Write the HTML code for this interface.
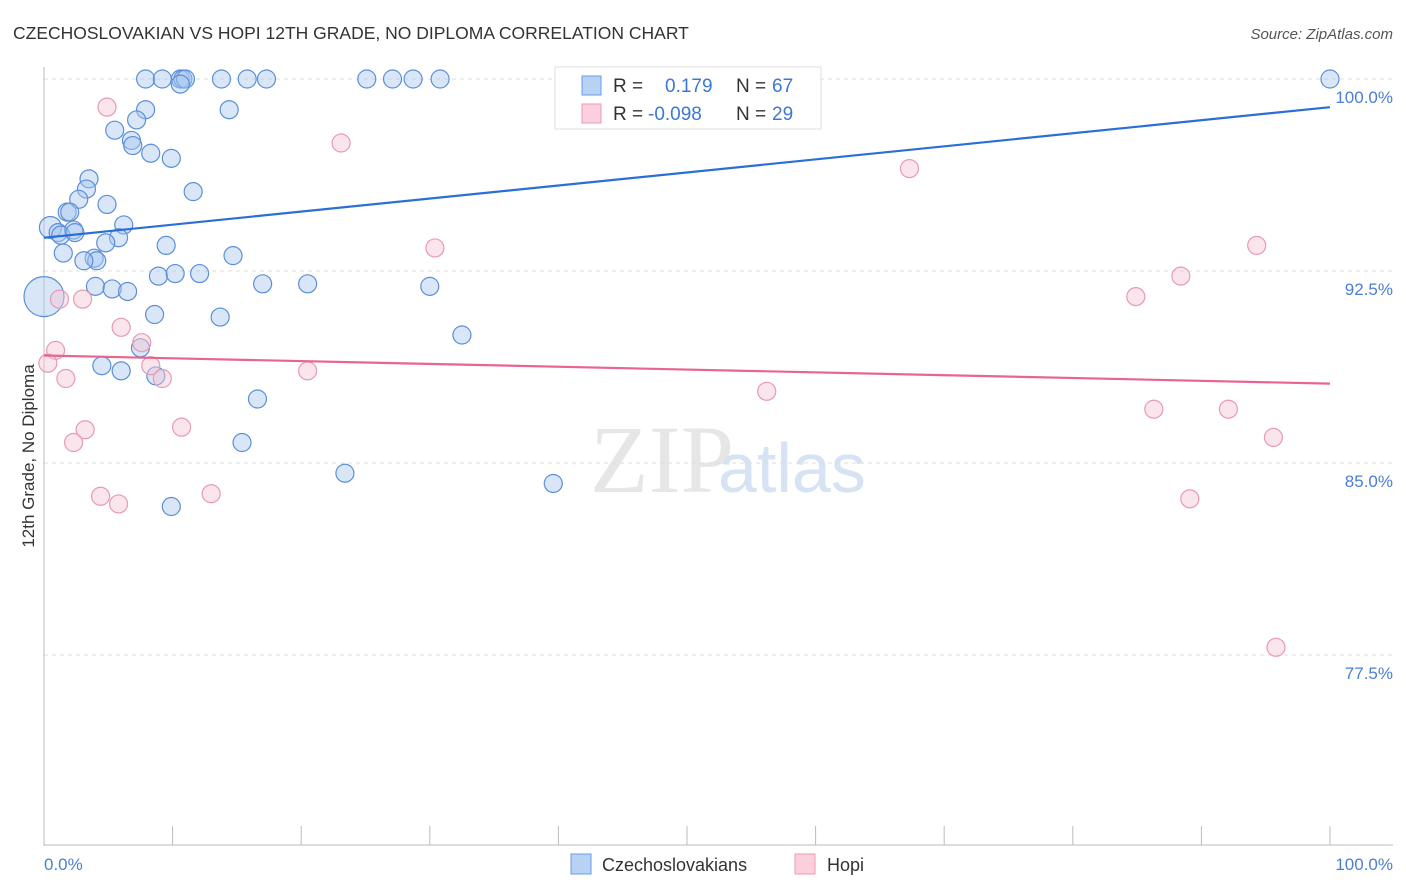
<!DOCTYPE html>
<html><head><meta charset="utf-8"><style>
body{margin:0;background:#fff;font-family:"Liberation Sans",sans-serif}
svg{display:block}
</style></head><body>
<svg id="c" width="1406" height="892">
<text x="13" y="39" font-size="17.5" fill="#333">CZECHOSLOVAKIAN VS HOPI 12TH GRADE, NO DIPLOMA CORRELATION CHART</text>
<text x="1393" y="39" font-size="15" fill="#555" text-anchor="end" font-style="italic">Source: ZipAtlas.com</text>
<text x="590" y="492" font-size="96" fill="#e6e6e6" font-family="Liberation Serif">ZIP</text>
<text x="718" y="492" font-size="70" fill="#d5e3f5">atlas</text>
<g id="grid"></g><g id="pts"></g><g id="lines"></g>
<text transform="translate(34,456) rotate(-90)" font-size="17" fill="#333" text-anchor="middle">12th Grade, No Diploma</text>
<text x="44" y="870" font-size="17" fill="#4a7fd4">0.0%</text>
<text x="1393" y="870" font-size="17" fill="#4a7fd4" text-anchor="end">100.0%</text>
<g>
<rect x="555" y="67" width="266" height="62" fill="#fff" stroke="#ddd"/>
<rect x="582" y="76" width="19" height="19" fill="#b7d2f5" stroke="#6a9be0"/>
<rect x="582" y="104" width="19" height="19" fill="#fbd0dc" stroke="#ec9ab5"/>
<text x="613" y="92" font-size="19" fill="#333">R = </text><text x="665" y="92" font-size="19" fill="#3b78d4">0.179</text>
<text x="736" y="92" font-size="19" fill="#333">N = </text><text x="772" y="92" font-size="19" fill="#3b78d4">67</text>
<text x="613" y="120" font-size="19" fill="#333">R = </text><text x="648" y="120" font-size="19" fill="#3b78d4">-0.098</text>
<text x="736" y="120" font-size="19" fill="#333">N = </text><text x="772" y="120" font-size="19" fill="#3b78d4">29</text>
</g>
<g>
<rect x="571" y="854" width="20" height="20" fill="#b7d2f5" stroke="#6a9be0"/>
<text x="602" y="871" font-size="18" fill="#333">Czechoslovakians</text>
<rect x="795" y="854" width="20" height="20" fill="#fbd0dc" stroke="#ec9ab5"/>
<text x="827" y="871" font-size="18" fill="#333">Hopi</text>
</g>
</svg>
<script>
const yTicks=[77.5,85.0,92.5,100.0];
const xTickCount=10;
const blueX=[7.9,9.2,10.6,10.8,11.0,13.8,15.8,17.3,25.1,27.1,28.7,30.8,43.8,100,10.6,7.9,14.4,7.2,5.5,6.8,6.9,8.3,9.9,3.5,3.3,11.6,2.7,4.9,1.8,2.0,0.5,6.2,1.1,2.3,1.3,2.4,5.8,4.8,9.5,1.5,3.9,4.1,3.1,14.7,8.9,10.2,12.1,4.0,5.3,6.5,17.0,20.5,30.0,0,8.6,13.7,32.5,7.5,4.5,6.0,8.7,16.6,15.4,23.4,39.6,9.9];
const blueY=[100,100,100,100,100,100,100,100,100,100,100,100,100,100,99.8,98.8,98.8,98.4,98.0,97.6,97.4,97.1,96.9,96.1,95.7,95.6,95.3,95.1,94.8,94.8,94.2,94.3,94.0,94.1,93.9,94.0,93.8,93.6,93.5,93.2,93.0,92.9,92.9,93.1,92.3,92.4,92.4,91.9,91.8,91.7,92.0,92.0,91.9,91.5,90.8,90.7,90.0,89.5,88.8,88.6,88.4,87.5,85.8,84.6,84.2,83.3];
const blueR=[9,9,9,9,9,9,9,9,9,9,9,9,9,9,9,9,9,9,9,9,9,9,9,9,9,9,9,9,9,9,11,9,9,9,9,9,9,9,9,9,9,9,9,9,9,9,9,9,9,9,9,9,9,20,9,9,9,9,9,9,9,9,9,9,9,9];
const pinkX=[4.9,23.1,67.3,30.4,94.3,88.4,84.9,1.2,3.0,6.0,7.6,0.9,0.3,1.7,8.3,9.2,20.5,56.2,86.3,92.1,10.7,3.2,2.3,95.6,4.4,5.8,13.0,89.1,95.8];
const pinkY=[98.9,97.5,96.5,93.4,93.5,92.3,91.5,91.4,91.4,90.3,89.7,89.4,88.9,88.3,88.8,88.3,88.6,87.8,87.1,87.1,86.4,86.3,85.8,86.0,83.7,83.4,83.8,83.6,77.8];
const blueTrend=[[0,93.8],[100,98.9]];
const pinkTrend=[[0,89.2],[100,88.1]];
const X0=44,X1=1330,Y100=79,PPU=25.6;
const sx=v=>X0+(X1-X0)*v/100, sy=v=>Y100+(100-v)*PPU;
const NS="http://www.w3.org/2000/svg";
function mk(tag,attrs,parent){const e=document.createElementNS(NS,tag);for(const k in attrs)e.setAttribute(k,attrs[k]);parent.appendChild(e);return e;}
const grid=document.getElementById('grid'),pts=document.getElementById('pts'),lines=document.getElementById('lines'),svg=document.getElementById('c');
yTicks.forEach(t=>{
 const l=mk('line',{x1:44,x2:1393,y1:sy(t),y2:sy(t),stroke:'#ddd','stroke-dasharray':'4,4'},grid);
 
 
 const tx=mk('text',{x:1393,y:sy(t)+24,'font-size':17,fill:'#4a7fd4','text-anchor':'end'},grid);
 tx.textContent=t.toFixed(1)+'%';
 
 
});
let ax=mk('line',{x1:44,x2:44,y1:67,y2:846,stroke:'#bbb'},grid);


ax=mk('line',{x1:44,x2:1393,y1:845,y2:845,stroke:'#bbb'},grid);


for(let i=0;i<=xTickCount;i++){
 const x=sx(i*100/xTickCount);
 const t=mk('line',{x1:x,x2:x,y1:826,y2:845,stroke:'#bbb'},grid);
 
 
}
blueX.forEach((v,i)=>{
 const c=mk('circle',{cx:sx(v),cy:sy(blueY[i]),r:blueR[i],fill:'#a9c8f0','fill-opacity':0.45,stroke:'#5b8fd9','stroke-width':1.2},pts);
 
 
});
pinkX.forEach((v,i)=>{
 const c=mk('circle',{cx:sx(v),cy:sy(pinkY[i]),r:9,fill:'#f7c6d4','fill-opacity':0.45,stroke:'#e89ab2','stroke-width':1.2},pts);
 
 
});
let tl=mk('line',{x1:sx(blueTrend[0][0]),y1:sy(blueTrend[0][1]),x2:sx(blueTrend[1][0]),y2:sy(blueTrend[1][1]),stroke:'#2a6fd6','stroke-width':2.2},lines);


tl=mk('line',{x1:sx(pinkTrend[0][0]),y1:sy(pinkTrend[0][1]),x2:sx(pinkTrend[1][0]),y2:sy(pinkTrend[1][1]),stroke:'#e8658f','stroke-width':2.2},lines);


</script>
</body></html>
